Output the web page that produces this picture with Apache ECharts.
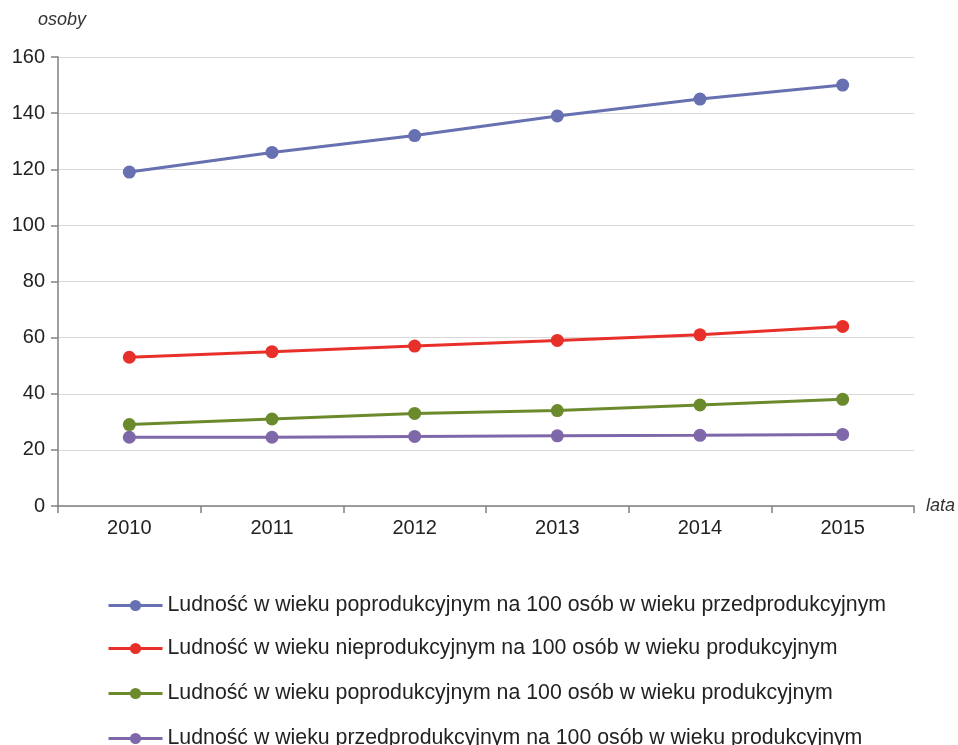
<!DOCTYPE html>
<html><head><meta charset="utf-8">
<script src="https://cdn.jsdelivr.net/npm/echarts@6/dist/echarts.min.js"></script>
<style>html,body{margin:0;padding:0;background:#fff}#c{width:958px;height:745px}</style>
</head><body><div id="c"></div>
<script>
const years = ['2010','2011','2012','2013','2014','2015'];
const names = [
  'Ludność w wieku poprodukcyjnym na 100 osób w wieku przedprodukcyjnym',
  'Ludność w wieku nieprodukcyjnym na 100 osób w wieku produkcyjnym',
  'Ludność w wieku poprodukcyjnym na 100 osób w wieku produkcyjnym',
  'Ludność w wieku przedprodukcyjnym na 100 osób w wieku produkcyjnym'
];
const postToPre = [119, 126, 132, 139, 145, 150];
const nonProdToProd = [53, 55, 57, 59, 61, 64];
const postToProd = [29, 31, 33, 34, 36, 38];
const preToProd = [24.5, 24.5, 24.8, 25, 25.2, 25.5];
const colors = ['#6770B1', '#E8302A', '#6B8A2C', '#7F68A9'];
const seriesData = [postToPre, nonProdToProd, postToProd, preToProd];
const legendCenters = [602, 645, 690, 735];

const font = 'Liberation Sans, Arial, sans-serif';
const chart = echarts.init(document.getElementById('c'));
chart.setOption({
  animation: false,
  color: colors,
  textStyle: {fontFamily: font},
  grid: {left: 58, right: 43, top: 57, bottom: 239, containLabel: false},
  legend: names.map((n, i) => ({
    orient: 'vertical', left: 102, top: legendCenters[i] - 12,
    itemWidth: 54, itemHeight: 14, itemGap: 10,
    lineStyle: {width: 3},
    textStyle: {fontSize: 21.3, color: '#222', fontFamily: font},
    data: [n]
  })),
  xAxis: {
    type: 'category', data: years, boundaryGap: true,
    name: 'lata', nameLocation: 'end', nameGap: 12,
    nameTextStyle: {fontSize: 18, fontStyle: 'italic', color: '#333', verticalAlign: 'middle', padding: [8,0,0,0]},
    axisLine: {lineStyle: {color: '#808080', width: 1.5}},
    axisTick: {show: true, length: 7, lineStyle: {color: '#808080', width: 1.5}},
    axisLabel: {fontSize: 20, color: '#222', margin: 12}
  },
  yAxis: {
    type: 'value', min: 0, max: 160, interval: 20,
    name: 'osoby', nameLocation: 'end', nameGap: 28,
    nameTextStyle: {fontSize: 18, fontStyle: 'italic', color: '#333', align: 'center', padding: [0,0,0,8]},
    axisLine: {show: true, lineStyle: {color: '#808080', width: 1.5}},
    axisTick: {show: true, length: 7, lineStyle: {color: '#808080', width: 1.5}},
    axisLabel: {fontSize: 20, color: '#222', margin: 13},
    splitLine: {lineStyle: {color: '#d9d9d9', width: 1.2}}
  },
  series: seriesData.map((d, i) => ({
    name: names[i], type: 'line', data: d,
    symbol: 'circle', symbolSize: 13,
    lineStyle: {width: 3, color: colors[i]},
    itemStyle: {color: colors[i]}
  }))
});
</script></body></html>
